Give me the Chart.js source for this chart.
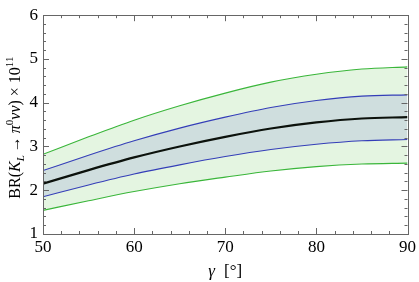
<!DOCTYPE html>
<html>
<head>
<meta charset="utf-8">
<script src="https://cdn.jsdelivr.net/npm/chart.js@4.4.1/dist/chart.umd.min.js"></script>
<style>
  html, body { margin: 0; padding: 0; background: #fff; }
  #wrap { width: 419px; height: 282px; }
</style>
</head>
<body>
<div id="wrap"><canvas id="brChart"></canvas></div>
<script>
// gamma in degrees, BR values in units of 1e-11
const gammaDeg = [50, 55, 60, 65, 70, 75, 80, 85, 90]
const brCentral = [2.15, 2.46, 2.75, 3.0, 3.22, 3.41, 3.55, 3.64, 3.67]
const brInnerUpper = [2.45, 2.80, 3.13, 3.42, 3.67, 3.89, 4.05, 4.15, 4.18]
const brInnerLower = [1.85, 2.12, 2.37, 2.58, 2.77, 2.93, 3.05, 3.13, 3.16]
const brOuterUpper = [2.82, 3.22, 3.60, 3.93, 4.22, 4.47, 4.65, 4.77, 4.82]
const brOuterLower = [1.54, 1.76, 1.97, 2.15, 2.30, 2.44, 2.54, 2.60, 2.62]
const xTickValues = [50, 60, 70, 80, 90]
const yTickValues = [1, 2, 3, 4, 5, 6]

const serif = "'Liberation Serif', 'DejaVu Serif', serif"

function pts (ys) {
  return gammaDeg.map((g, i) => ({ x: g, y: ys[i] }))
}

// frame with inward ticks on all four sides (mathematica style)
const frameTicks = {
  id: 'frameTicks',
  afterDraw (chart) {
    const { ctx, chartArea: a, scales } = chart
    const x = scales.x
    const y = scales.y
    ctx.save()
    ctx.strokeStyle = '#666'
    ctx.lineWidth = 1
    ctx.strokeRect(Math.round(a.left) + 0.5, Math.round(a.top) + 0.5,
      Math.round(a.right - a.left), Math.round(a.bottom - a.top))
    ctx.beginPath()
    for (let v = 50; v <= 90; v += 2) {
      const px = Math.round(x.getPixelForValue(v)) + 0.5
      const len = v % 10 === 0 ? 6 : 3
      ctx.moveTo(px, a.bottom); ctx.lineTo(px, a.bottom - len)
      ctx.moveTo(px, a.top); ctx.lineTo(px, a.top + len)
    }
    for (let i = 0; i <= 25; i++) {
      const v = 1 + i * 0.2
      const py = Math.round(y.getPixelForValue(v)) + 0.5
      const len = i % 5 === 0 ? 6 : 3
      ctx.moveTo(a.left, py); ctx.lineTo(a.left + len, py)
      ctx.moveTo(a.right, py); ctx.lineTo(a.right - len, py)
    }
    ctx.stroke()
    ctx.restore()
  }
}

// axis titles with sub/superscripts
function drawRich (ctx, parts, cx, cy) {
  let total = 0
  parts.forEach(p => {
    ctx.font = (p.it ? 'italic ' : '') + p.size + 'px ' + serif
    p.w = ctx.measureText(p.t).width
    total += p.w + (p.gap || 0)
  })
  let x = cx - total / 2
  parts.forEach(p => {
    ctx.font = (p.it ? 'italic ' : '') + p.size + 'px ' + serif
    ctx.fillText(p.t, x, cy + (p.dy || 0))
    x += p.w + (p.gap || 0)
  })
}

const axisTitles = {
  id: 'axisTitles',
  afterDraw (chart) {
    const { ctx, chartArea: a } = chart
    ctx.save()
    ctx.fillStyle = '#000'
    ctx.textBaseline = 'alphabetic'
    ctx.textAlign = 'left'
    drawRich(ctx, [
      { t: 'γ', it: true, size: 17, gap: 9 },
      { t: '[°]', size: 17 }
    ], (a.left + a.right) / 2, 276)

    ctx.translate(20, (a.top + a.bottom) / 2 + 3)
    ctx.rotate(-Math.PI / 2)
    drawRich(ctx, [
      { t: 'BR(', size: 16 },
      { t: 'K', it: true, size: 16 },
      { t: 'L', it: true, size: 11, dy: 4, gap: 3 },
      { t: '→', size: 16, gap: 3 },
      { t: 'π', it: true, size: 16 },
      { t: '0', size: 11, dy: -7 },
      { t: 'νν', it: true, size: 16 },
      { t: ') × 10', size: 16 },
      { t: '11', size: 11, dy: -7 }
    ], 0, 0)
    ctx.restore()
  }
}

const greenLine = 'rgb(58, 182, 58)'
const blueLine = 'rgb(52, 62, 184)'

new Chart(document.getElementById('brChart'), {
  type: 'line',
  data: {
    datasets: [
      { data: pts(brCentral), borderColor: '#0c120c', borderWidth: 2.2, fill: false },
      { data: pts(brInnerUpper), borderColor: blueLine, borderWidth: 1.1, fill: '+1', backgroundColor: 'rgb(207, 222, 222)' },
      { data: pts(brInnerLower), borderColor: blueLine, borderWidth: 1.1, fill: false },
      { data: pts(brOuterUpper), borderColor: greenLine, borderWidth: 1.1, fill: '+1', backgroundColor: 'rgb(228, 245, 225)' },
      { data: pts(brOuterLower), borderColor: greenLine, borderWidth: 1.1, fill: false }
    ]
  },
  options: {
    animation: false,
    responsive: true,
    maintainAspectRatio: false,
    layout: { padding: { top: 8, right: 8, left: 0, bottom: 0 } },
    elements: {
      point: { radius: 0 },
      line: { cubicInterpolationMode: 'monotone' }
    },
    plugins: {
      legend: { display: false },
      tooltip: { enabled: false },
      filler: { drawTime: 'beforeDatasetsDraw' }
    },
    scales: {
      x: {
        type: 'linear',
        min: 50,
        max: 90,
        grid: { display: false, drawTicks: false },
        border: { display: false },
        afterBuildTicks: s => { s.ticks = xTickValues.map(v => ({ value: v })) },
        afterFit: s => { s.height = 48 },
        ticks: { color: '#000', padding: 3, maxRotation: 0, font: { family: serif, size: 17 } }
      },
      y: {
        min: 1,
        max: 6,
        grid: { display: false, drawTicks: false },
        border: { display: false },
        afterBuildTicks: s => { s.ticks = yTickValues.map(v => ({ value: v })) },
        afterFit: s => { s.width = 43 },
        ticks: { color: '#000', padding: 5, font: { family: serif, size: 17 } }
      }
    }
  },
  plugins: [frameTicks, axisTitles]
})
</script>
</body>
</html>
